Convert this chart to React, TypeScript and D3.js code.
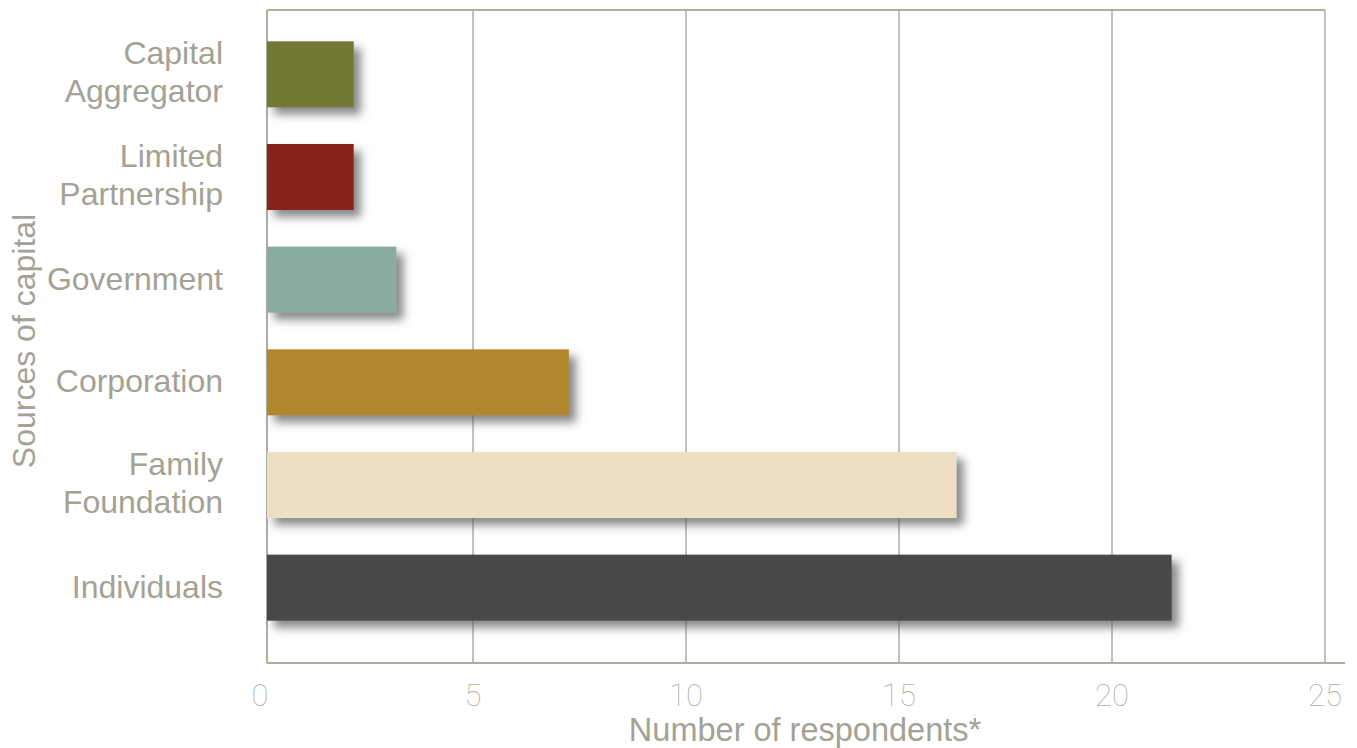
import React from "react";
import * as d3 from "d3";

const categories: string[][] = [
  ["Capital", "Aggregator"],
  ["Limited", "Partnership"],
  ["Government"],
  ["Corporation"],
  ["Family", "Foundation"],
  ["Individuals"],
];
const values: number[] = [2.2, 2.2, 3.2, 7.25, 16.35, 21.4];
const barColors: string[] = ["#737935", "#8a231e", "#8aab9f", "#b0862f", "#ecdfc3", "#48484a"];
const tickValues: number[] = [0, 5, 10, 15, 20, 25];
const xTitle = "Number of respondents*";
const yTitle = "Sources of capital";

const W = 1357;
const H = 748;
const plotLeft = 267;
const plotTop = 10;
const plotBottom = 663;
const lineColor = "#aeae9e";
const textColor = "#a3a294";

export default function App() {
  const x = d3.scaleLinear().domain([0, 25]).range([260, 1325]);
  const keys = categories.map((c) => c.join(" "));
  const y = d3
    .scaleBand<string>()
    .domain(keys)
    .range([23, 639])
    .paddingInner(0.357)
    .paddingOuter(0.1785);
  const bw = y.bandwidth();

  return (
    <svg
      width={W}
      height={H}
      style={{ position: "absolute", left: 0, top: 0, background: "#fff" }}
    >
      <defs>
        <filter id="shadow" x="-10%" y="-40%" width="140%" height="200%">
          <feDropShadow dx="7" dy="7" stdDeviation="5" floodColor="#555" floodOpacity="0.7" />
        </filter>
      </defs>
      {/* gridlines */}
      {tickValues
        .filter((t) => t > 0)
        .map((t) => (
          <line
            key={"g" + t}
            x1={x(t)}
            x2={x(t)}
            y1={plotTop}
            y2={plotBottom}
            stroke={lineColor}
            strokeWidth={1.5}
          />
        ))}
      {/* frame */}
      <line x1={plotLeft} x2={x(25)} y1={plotTop} y2={plotTop} stroke={lineColor} strokeWidth={2} />
      <line x1={plotLeft} x2={plotLeft} y1={plotTop} y2={plotBottom} stroke={lineColor} strokeWidth={2} />
      <line x1={plotLeft} x2={1345} y1={plotBottom} y2={plotBottom} stroke={lineColor} strokeWidth={2} />
      {/* bars */}
      {keys.map((k, i) => (
        <rect
          key={k}
          x={plotLeft}
          y={y(k)!}
          width={x(values[i]) - plotLeft}
          height={bw}
          fill={barColors[i]}
          filter="url(#shadow)"
        />
      ))}
      {/* category labels */}
      {categories.map((lines, i) => {
        const cy = y(keys[i])! + bw / 2;
        const offsets = lines.length === 1 ? [-1] : [-21, 17];
        return (
          <text
            key={"l" + i}
            textAnchor="end"
            fontFamily="'Liberation Sans', Arial, sans-serif"
            fontSize={32}
            fill={textColor}
          >
            {lines.map((ln, j) => (
              <tspan key={j} x={223} y={cy + offsets[j] + 11}>
                {ln}
              </tspan>
            ))}
          </text>
        );
      })}
      {/* tick labels */}
      {tickValues.map((t) => (
        <text
          key={"t" + t}
          x={x(t)}
          y={706}
          textAnchor="middle"
          fontFamily="Roboto, sans-serif"
          fontWeight={100}
          fontSize={31}
          fill={lineColor}
        >
          {t}
        </text>
      ))}
      {/* axis titles */}
      <text
        x={(618 + 992) / 2}
        y={741}
        textAnchor="middle"
        fontFamily="'Liberation Sans', Arial, sans-serif"
        fontSize={32.5}
        fill={textColor}
      >
        {xTitle}
      </text>
      <text
        transform={`translate(35, 341) rotate(-90)`}
        textAnchor="middle"
        fontFamily="'Liberation Sans', Arial, sans-serif"
        fontSize={32}
        fill={textColor}
      >
        {yTitle}
      </text>
    </svg>
  );
}
